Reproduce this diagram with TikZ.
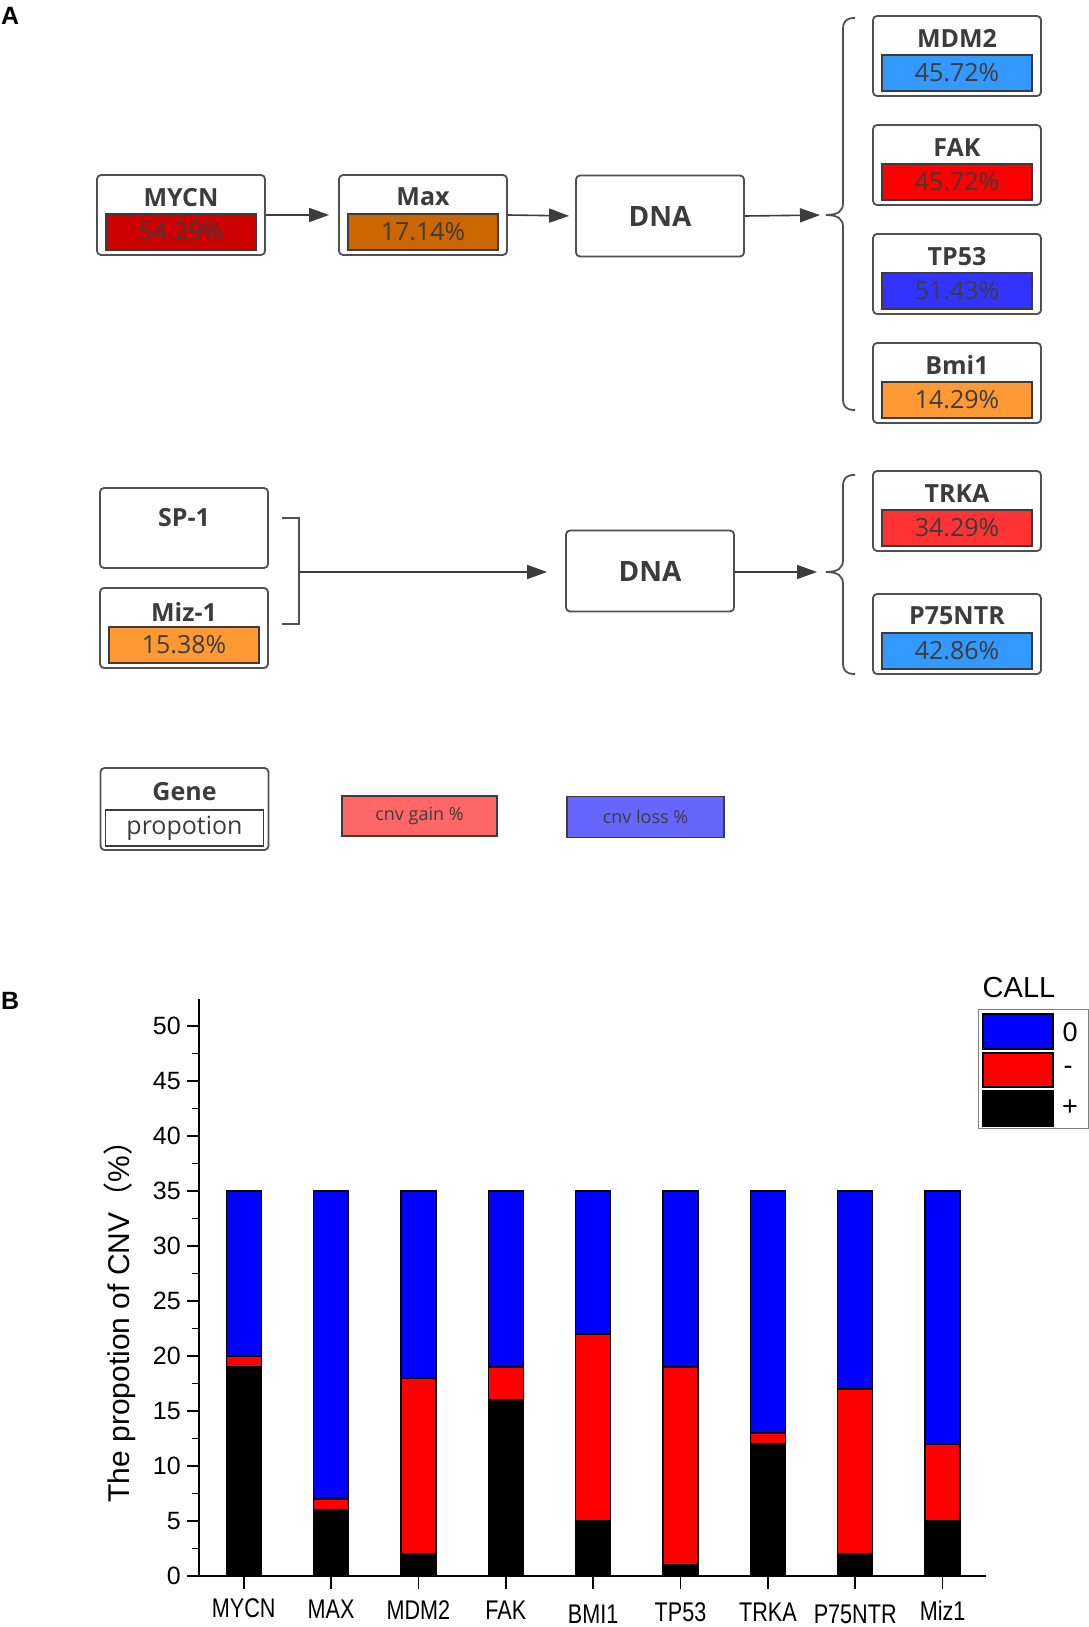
\documentclass[tikz,border=0pt]{standalone}
\usepackage{fontspec}
\setmainfont{Open Sans}
\newfontfamily\arialfont{Liberation Sans}
\newfontfamily\cjkfont{Noto Sans CJK SC}
\usepackage{xcolor}
\usetikzlibrary{arrows.meta, positioning, calc}

\definecolor{txtgray}{HTML}{3C3C3C}
\definecolor{boxgray}{HTML}{505050}
\definecolor{mycnred}{HTML}{CC0000}
\definecolor{maxorange}{HTML}{CC6600}
\definecolor{skyblue}{HTML}{3399FF}
\definecolor{fakred}{HTML}{FF0000}
\definecolor{tpblue}{HTML}{3333FF}
\definecolor{paleorange}{HTML}{FF9933}
\definecolor{trkared}{HTML}{FF3333}
\definecolor{gainred}{HTML}{FF6666}
\definecolor{lossblue}{HTML}{6666FF}
\definecolor{callblue}{HTML}{0000FF}
\definecolor{callred}{HTML}{FF0000}

\tikzset{
  genebox/.style={draw=boxgray, line width=1.8pt, rounded corners=4pt, fill=white,
    minimum width=168pt, minimum height=80pt, inner sep=0pt},
  pctbar/.style={draw=txtgray, line width=1.6pt, minimum width=150pt, minimum height=36pt,
    inner sep=0pt, text=txtgray, font=\fontsize{25}{30}\selectfont},
  genename/.style={text=txtgray, font=\fontsize{25}{30}\selectfont\bfseries, inner sep=0pt},
  flow/.style={-{Triangle[length=20pt, width=14pt]}, line width=1.6pt, draw=txtgray},
  bracket/.style={line width=1.8pt, draw=boxgray},
  chartfont/.style={font=\arialfont\fontsize{25}{30}\selectfont, inner sep=0pt},
}

\begin{document}
\begin{tikzpicture}[x=1pt, y=-1pt]

    \useasboundingbox (0,0) rectangle (1089,1627);

    % panel labels
    \node[font=\arialfont\bfseries\fontsize{25}{30}\selectfont, anchor=west, inner sep=0pt] (labA) at (1,16) {A};
    \node[font=\arialfont\bfseries\fontsize{25}{30}\selectfont, anchor=west, inner sep=0pt] (labB) at (1,1001) {B};

    % MYCN
    \node[genebox] (mycn) at (181,215) {};
    \node[genename] (mycnname) at ($(mycn.north)+(0,23)$) {MYCN};
    \node[pctbar, fill=mycnred] (mycnpct) at ($(mycn.south)+(0,-24)$) {54.29\%};

    % Max
    \node[genebox] (max) at (423,215) {};
    \node[genename] (maxname) at ($(max.north)+(0,23)$) {Max};
    \node[pctbar, fill=maxorange] (maxpct) at ($(max.south)+(0,-24)$) {17.14\%};

    % DNA (top)
    \node[genebox, genename, font=\fontsize{28}{32}\selectfont\bfseries, minimum width=168pt, minimum height=81pt] (dna) at (660,216) {DNA};

    \draw[flow, shorten >=9pt] (mycn.east) -- (max.west);
    \draw[flow, shorten >=6pt] (max.east) -- (dna.west);

    % brace to the targets
    \coordinate (tipA) at (826,215);
    \draw[bracket] (855,18) .. controls (846,18) and (843,21) .. (843,30) -- (843,203)
        .. controls (843,211) and (838,215) .. (tipA)
        .. controls (838,215) and (843,219) .. (843,227) -- (843,398)
        .. controls (843,407) and (846,410) .. (855,410);
    \draw[flow, shorten >=6pt] (dna.east) -- (tipA);

    % MDM2, FAK, TP53, Bmi1
    \foreach \nm/\yy/\lbl/\col/\val in {mdm/56/MDM2/skyblue/45.72, fak/165/FAK/fakred/45.72,
        tp/274/TP53/tpblue/51.43, bmi/383/Bmi1/paleorange/14.29} {
      \node[genebox] (\nm) at (957,\yy) {};
      \node[genename] (\nm name) at ($(\nm.north)+(0,23)$) {\lbl};
      \node[pctbar, fill=\col] (\nm pct) at ($(\nm.south)+(0,-24)$) {\val\%};
    }

    % SP-1 and Miz-1
    \node[genebox] (sp) at (184,528) {};
    \node[genename] (spname) at ($(sp.north)+(0,30)$) {SP-1};
    \node[genebox] (miz) at (184,628) {};
    \node[genename] (mizname) at ($(miz.north)+(0,25)$) {Miz-1};
    \node[pctbar, fill=paleorange] (mizpct) at ($(miz.south)+(0,-24)$) {15.38\%};

    % DNA (bottom)
    \node[genebox, genename, font=\fontsize{28}{32}\selectfont\bfseries, minimum width=168pt, minimum height=81pt] (dnab) at (650,571) {DNA};

    \coordinate (join) at (299,572);
    \draw[bracket] (282,518) -- (299,518) -- (299,624) -- (282,624);
    \draw[flow, shorten >=18pt] (join) -- (join -| dnab.west);

    \coordinate (tipB) at (826,572);
    \draw[bracket] (855,475) .. controls (846,475) and (843,478) .. (843,487) -- (843,560)
        .. controls (843,568) and (838,572) .. (tipB)
        .. controls (838,572) and (843,576) .. (843,584) -- (843,662)
        .. controls (843,671) and (846,674) .. (855,674);
    \draw[flow, shorten >=9pt] (dnab.east |- tipB) -- (tipB);

    % TRKA and P75NTR
    \node[genebox] (trka) at (957,511) {};
    \node[genename] (trkaname) at ($(trka.north)+(0,23)$) {TRKA};
    \node[pctbar, fill=trkared] (trkapct) at ($(trka.south)+(0,-24)$) {34.29\%};
    \node[genebox] (ptr) at (957,634) {};
    \node[genename] (ptrname) at ($(ptr.north)+(0,23)$) {P75NTR};
    \node[pctbar, fill=skyblue] (ptrpct) at ($(ptr.south)+(0,-24)$) {42.86\%};

    % legend of panel A
    \node[genebox, minimum height=82pt] (gene) at (184.5,809) {};
    \node[genename] (genename) at ($(gene.north)+(0,24)$) {Gene};
    \node[pctbar, fill=white, minimum width=158pt] (genepct) at ($(gene.south)+(0,-23)$) {propotion};
    \node[pctbar, fill=gainred, minimum width=155pt, minimum height=40pt, font=\fontsize{18}{22}\selectfont] (gain) at (419.5,816) {cnv gain \%};
    \node[pctbar, fill=lossblue, minimum width=157pt, minimum height=41pt, font=\fontsize{18}{22}\selectfont] (loss) at (645.5,817) {cnv loss \%};

    % panel B: axes
    \draw[line width=2pt] (199,999) -- (199,1576) -- (986,1576);
    \foreach \v in {0,5,...,50} {
      \draw[line width=1.8pt] (187,1576-11*\v) -- (199,1576-11*\v);
      \node[chartfont, anchor=east] (ytick\v) at (181,1576-11*\v) {\v};
    }
    \foreach \v in {2.5,7.5,...,47.5}
      \draw[line width=1.8pt] (192,1576-11*\v) -- (199,1576-11*\v);
    \node[chartfont, font=\arialfont\fontsize{30}{36}\selectfont, rotate=90] (ylabel) at (120,1314)
        {The propotion of CNV{\cjkfont （}\%{\cjkfont ）}};

    % stacked bars: + (black), - (red), 0 (blue)
    \foreach \lbl/\blk/\rd/\ly [count=\i from 0] in {MYCN/19/20/1608, MAX/6/7/1609, MDM2/2/18/1610,
        FAK/16/19/1610, BMI1/5/22/1614, TP53/1/19/1612, TRKA/12/13/1612, P75NTR/2/17/1614, Miz1/5/12/1611} {
      \pgfmathsetmacro{\cx}{243.7+87.36*\i}
      \draw[line width=1.2pt, fill=callblue] (\cx-17.5,1576-11*\rd) rectangle (\cx+17.5,1576-11*35);
      \draw[line width=1.2pt, fill=callred] (\cx-17.5,1576-11*\blk) rectangle (\cx+17.5,1576-11*\rd);
      \draw[line width=1.2pt, fill=black] (\cx-17.5,1576) rectangle (\cx+17.5,1576-11*\blk);
      \draw[line width=1.8pt] (\cx,1576) -- (\cx,1589);
      \node[chartfont, font=\arialfont\fontsize{27}{32}\selectfont, xscale=0.8] (xlab\i) at (\cx,\ly) {\lbl};
    }

    % legend of panel B
    \node[chartfont, font=\arialfont\fontsize{29}{34}\selectfont] (call) at (1019,988) {CALL};
    \draw[line width=0.8pt, draw=gray] (978,1009) rectangle (1088,1128);
    \draw[line width=1.2pt, fill=callblue] (983,1014) rectangle (1053,1049);
    \draw[line width=1.2pt, fill=callred] (983,1053) rectangle (1053,1087);
    \draw[line width=1.2pt, fill=black] (983,1091) rectangle (1053,1126);
    \node[chartfont, font=\arialfont\fontsize{27}{32}\selectfont] (zero) at (1070,1032) {0};
    \node[chartfont, font=\arialfont\fontsize{27}{32}\selectfont] (minus) at (1068,1070) {-};
    \node[chartfont, font=\arialfont\fontsize{27}{32}\selectfont] (plus) at (1070,1108) {+};

\end{tikzpicture}
\end{document}
